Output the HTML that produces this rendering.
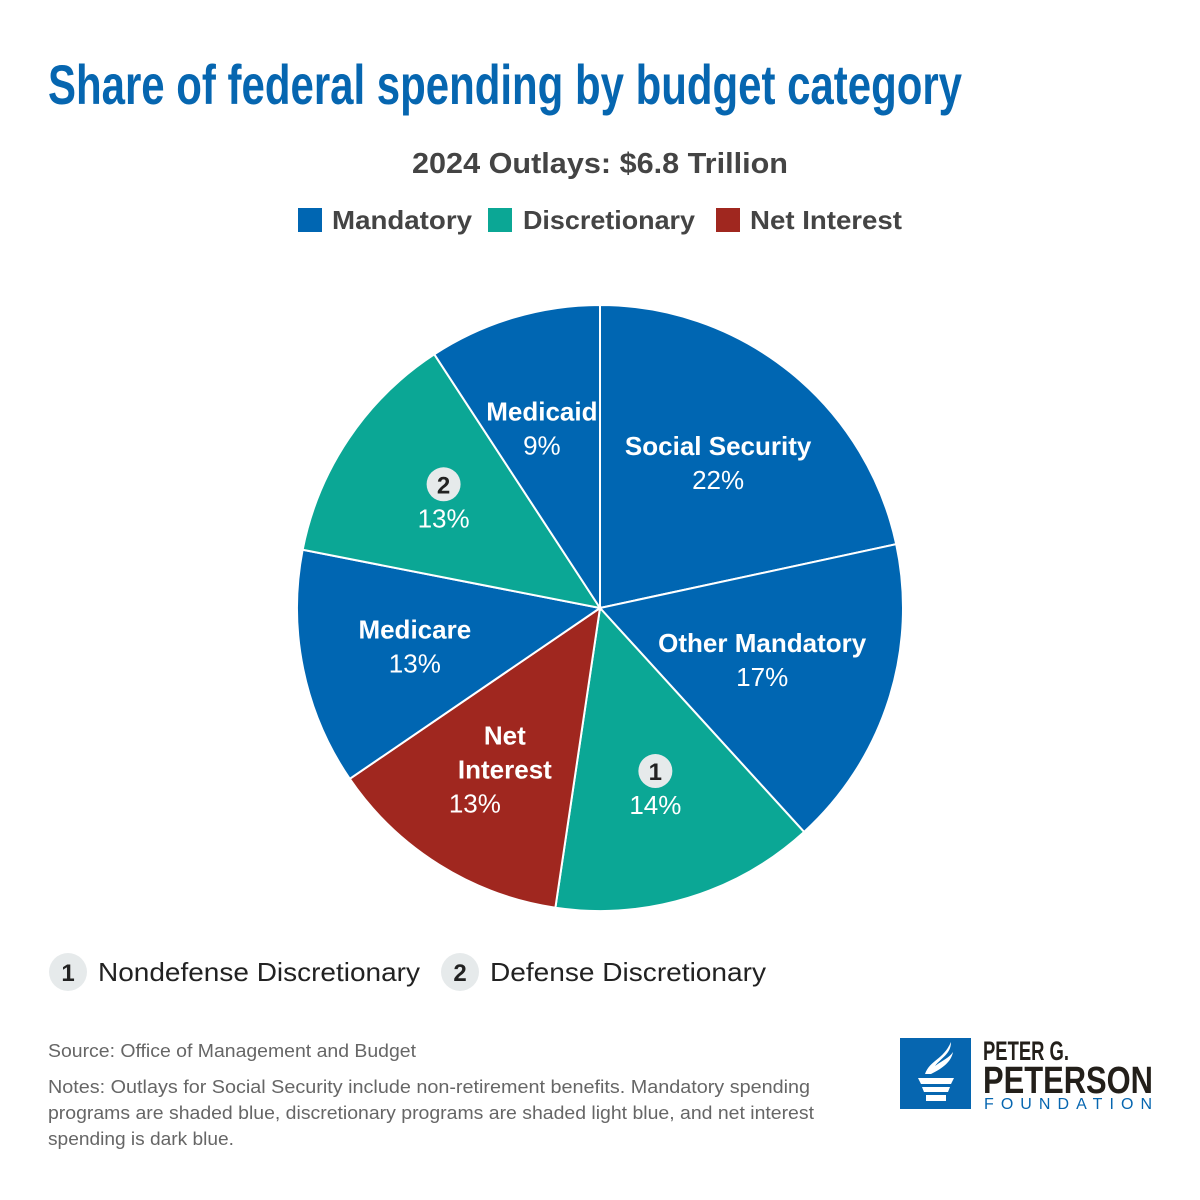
<!DOCTYPE html>
<html><head><meta charset="utf-8"><style>
body{margin:0;background:#fff;}
svg{display:block;font-family:"Liberation Sans",sans-serif;}
</style></head><body>
<svg id="chart" width="1200" height="1200" viewBox="0 0 1200 1200">
<text x="48" y="104" font-size="56" font-weight="bold" fill="#0666b0" textLength="914" lengthAdjust="spacingAndGlyphs">Share of federal spending by budget category</text>
<text x="600" y="173" font-size="29" font-weight="bold" fill="#444" text-anchor="middle" textLength="376" lengthAdjust="spacingAndGlyphs">2024 Outlays: $6.8 Trillion</text>
<g font-size="26" fill="#444" font-weight="bold">
<rect x="298" y="208" width="24" height="24" fill="#0066b2"/>
<text x="332" y="229" textLength="140" lengthAdjust="spacingAndGlyphs">Mandatory</text>
<rect x="488" y="208" width="24" height="24" fill="#0ba795"/>
<text x="523" y="229" textLength="172" lengthAdjust="spacingAndGlyphs">Discretionary</text>
<rect x="716" y="208" width="24" height="24" fill="#a0271f"/>
<text x="750" y="229" textLength="152" lengthAdjust="spacingAndGlyphs">Net Interest</text>
</g>
<g id="pie"></g>
<g id="labels" font-size="26" fill="#fff" text-anchor="middle"></g>
<g font-size="26" fill="#222">
<circle cx="68" cy="972" r="19" fill="#e6eaeb"/>
<text x="68" y="981" text-anchor="middle" font-weight="bold" font-size="24">1</text>
<text x="98" y="981" textLength="322" lengthAdjust="spacingAndGlyphs">Nondefense Discretionary</text>
<circle cx="460" cy="972" r="19" fill="#e6eaeb"/>
<text x="460" y="981" text-anchor="middle" font-weight="bold" font-size="24">2</text>
<text x="490" y="981" textLength="276" lengthAdjust="spacingAndGlyphs">Defense Discretionary</text>
</g>
<g font-size="18" fill="#666">
<text x="48" y="1057" textLength="368" lengthAdjust="spacingAndGlyphs">Source: Office of Management and Budget</text>
<text x="48" y="1093" textLength="762" lengthAdjust="spacingAndGlyphs">Notes: Outlays for Social Security include non-retirement benefits. Mandatory spending</text>
<text x="48" y="1119" textLength="766" lengthAdjust="spacingAndGlyphs">programs are shaded blue, discretionary programs are shaded light blue, and net interest</text>
<text x="48" y="1145" textLength="186" lengthAdjust="spacingAndGlyphs">spending is dark blue.</text>
</g>
<g>
<rect x="900" y="1038" width="71" height="71" fill="#0666b0"/>
<path d="M918 1078h36l-3 6h-30z M922 1087h28l-2 5h-24z M926 1095h20v6h-20z" fill="#fff"/>
<path d="M925 1074c5-14 18-14 26-32c0 12-10 16-16 24c8-6 14-8 18-14c-2 10-10 16-22 22z" fill="#fff"/>
<text x="983" y="1060" font-size="27" font-weight="bold" fill="#231f1a" textLength="86" lengthAdjust="spacingAndGlyphs">PETER G.</text>
<text x="983" y="1093" font-size="38" font-weight="bold" fill="#231f1a" textLength="170" lengthAdjust="spacingAndGlyphs">PETERSON</text>
<text x="984" y="1109" font-size="16" fill="#0666b0" textLength="168" lengthAdjust="spacing">FOUNDATION</text>
</g>
</svg>
<script>
const categories=["Social Security","Other Mandatory","Nondefense Discretionary","Net Interest","Medicare","Defense Discretionary","Medicaid"];
const values=[21.6,16.6,14.1,13.1,12.6,12.7,9.2];
const printed=["22%","17%","14%","13%","13%","13%","9%"];
const groups=["m","m","d","n","m","d","m"];
const colors={m:"#0066b2",d:"#0ba795",n:"#a0271f"};
const cx=600,cy=608,R=303;
const total=values.reduce((a,b)=>a+b,0);
const ns="http://www.w3.org/2000/svg";
const pie=document.getElementById('pie'),lab=document.getElementById('labels');
function pt(a,r){return [cx+r*Math.sin(a),cy-r*Math.cos(a)];}
let acc=0;
const titles=[["Social Security"],["Other Mandatory"],["#1"],["Net","Interest"],["Medicare"],["#2"],["Medicaid"]];
// label placement: angular offset from slice midpoint (deg) and radius fraction
const labelShift=[-1.8,-3.6,-1.2,0.2,3.1,3.0,-0.4];
const rad=[0.646,0.552,0.587,0.588,0.618,0.646,0.657];
values.forEach((v,i)=>{
  const a0=acc/total*2*Math.PI;acc+=v;const a1=acc/total*2*Math.PI;
  const p0=pt(a0,R),p1=pt(a1,R);
  const p=document.createElementNS(ns,'path');
  p.setAttribute('d',`M${cx},${cy}L${p0[0]},${p0[1]}A${R},${R} 0 ${a1-a0>Math.PI?1:0} 1 ${p1[0]},${p1[1]}Z`);
  p.setAttribute('fill',colors[groups[i]]);p.setAttribute('stroke','#fff');p.setAttribute('stroke-width','2');
  
  
  pie.appendChild(p);
  const c=pt((a0+a1)/2+labelShift[i]*Math.PI/180,R*rad[i]);
  const t=titles[i];const n=t.length;
  let y=c[1]-(n)*17+20;
  t.forEach(s=>{
    if(s[0]==='#'){
      const ci=document.createElementNS(ns,'circle');
      ci.setAttribute('cx',c[0]);ci.setAttribute('cy',y-9);ci.setAttribute('r',17);ci.setAttribute('fill','#e6eaeb');
      
      
      lab.appendChild(ci);
      const tt=document.createElementNS(ns,'text');tt.setAttribute('x',c[0]);tt.setAttribute('y',y);tt.setAttribute('fill','#222');tt.setAttribute('font-weight','bold');tt.setAttribute('font-size','24');tt.textContent=s[1];
      
      
      lab.appendChild(tt);
    } else {
      const tt=document.createElementNS(ns,'text');tt.setAttribute('x',c[0]);tt.setAttribute('y',y);tt.setAttribute('font-weight','bold');tt.textContent=s;
      
      
      lab.appendChild(tt);
    }
    y+=34;
  });
  const pv=document.createElementNS(ns,'text');pv.setAttribute('x',c[0]-(n>1?30:0));pv.setAttribute('y',y);pv.textContent=printed[i];
  
  
  lab.appendChild(pv);
});
</script>
</body></html>
